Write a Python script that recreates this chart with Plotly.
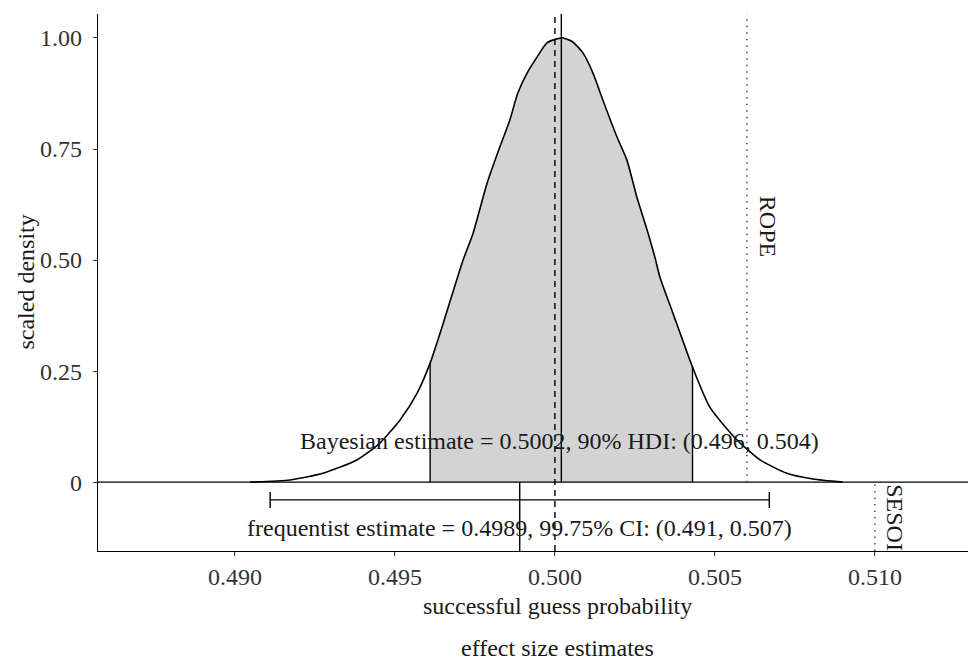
import plotly.graph_objects as go

# posterior density (scaled so the peak is 1)
DENS_X = [0.49047, 0.49172, 0.49275, 0.49381, 0.49453, 0.49516, 0.49569, 0.4961,
          0.49641, 0.49713, 0.49744, 0.49788, 0.49828, 0.49859, 0.49884, 0.49913,
          0.49944, 0.49975, 0.50006, 0.50025, 0.50056, 0.50088, 0.50119, 0.5015,
          0.50194, 0.50225, 0.50256, 0.50288, 0.50313, 0.50328, 0.50369, 0.5043,
          0.50484, 0.50569, 0.50641, 0.50725, 0.50806, 0.509]
DENS_Y = [0.0, 0.005, 0.02, 0.05, 0.088, 0.14, 0.20, 0.268,
          0.335, 0.50, 0.56, 0.673, 0.755, 0.815, 0.876, 0.921,
          0.957, 0.989, 0.998, 1.0, 0.991, 0.966, 0.921, 0.86,
          0.777, 0.725, 0.642, 0.568, 0.505, 0.462, 0.38, 0.259,
          0.169, 0.095, 0.05, 0.02, 0.007, 0.0]

BAYES_EST = 0.5002
HDI_LOW, HDI_HIGH = 0.4961, 0.5043
FREQ_EST = 0.4989
CI_LOW, CI_HIGH = 0.4911, 0.5067
NULL_VALUE = 0.500
ROPE = 0.506
SESOI = 0.510

BAYES_LABEL = "Bayesian estimate = 0.5002, 90% HDI: (0.496, 0.504)"
FREQ_LABEL = "frequentist estimate = 0.4989, 99.75% CI: (0.491, 0.507)"

X_TICKS = [0.490, 0.495, 0.500, 0.505, 0.510]
X_TICK_TEXT = ["0.490", "0.495", "0.500", "0.505", "0.510"]
Y_TICKS = [0, 0.25, 0.5, 0.75, 1.0]
Y_TICK_TEXT = ["0", "0.25", "0.50", "0.75", "1.00"]

X_RANGE = [0.48572, 0.51316]
Y_RANGE = [-0.155, 1.054]
ERR_Y = -0.04

FONT = "Liberation Serif, Times New Roman, serif"
INK = "black"

fig = go.Figure()

# shaded HDI region under the curve
hdi_x = [x for x in DENS_X if HDI_LOW <= x <= HDI_HIGH]
hdi_y = [y for x, y in zip(DENS_X, DENS_Y) if HDI_LOW <= x <= HDI_HIGH]
fig.add_trace(go.Scatter(x=hdi_x, y=hdi_y, mode="lines", fill="tozeroy",
                         fillcolor="#D3D3D3", line=dict(width=0, shape="spline", smoothing=0.6),
                         hoverinfo="skip"))

# HDI edges
for edge in (HDI_LOW, HDI_HIGH):
    top = DENS_Y[DENS_X.index(edge)]
    fig.add_trace(go.Scatter(x=[edge, edge], y=[0, top], mode="lines",
                             line=dict(color=INK, width=1.4), hoverinfo="skip"))

# density curve
fig.add_trace(go.Scatter(x=DENS_X, y=DENS_Y, mode="lines",
                         line=dict(color=INK, width=1.6, shape="spline", smoothing=0.6),
                         hoverinfo="skip"))

# frequentist interval
fig.add_trace(go.Scatter(
    x=[FREQ_EST], y=[ERR_Y], mode="markers",
    marker=dict(size=1, opacity=0),
    error_x=dict(type="data", symmetric=False, array=[CI_HIGH - FREQ_EST],
                 arrayminus=[FREQ_EST - CI_LOW], width=8, thickness=1.4, color=INK),
    hoverinfo="skip",
))

shapes = [
    # zero line across the whole panel
    dict(type="line", xref="paper", x0=0, x1=1, yref="y", y0=0, y1=0,
         line=dict(color=INK, width=1.4)),
    # null value, dashed, full height
    dict(type="line", xref="x", x0=NULL_VALUE, x1=NULL_VALUE, yref="y",
         y0=Y_RANGE[0], y1=Y_RANGE[1], line=dict(color=INK, width=1.4, dash="6px,5px")),
    # Bayesian point estimate
    dict(type="line", xref="x", x0=BAYES_EST, x1=BAYES_EST, yref="y",
         y0=0, y1=Y_RANGE[1], line=dict(color=INK, width=1.4)),
    # frequentist point estimate
    dict(type="line", xref="x", x0=FREQ_EST, x1=FREQ_EST, yref="y",
         y0=Y_RANGE[0], y1=0, line=dict(color=INK, width=1.4)),
    # ROPE
    dict(type="line", xref="x", x0=ROPE, x1=ROPE, yref="y",
         y0=0, y1=Y_RANGE[1], line=dict(color="#333333", width=1.3, dash="1.5px,5px")),
    # SESOI
    dict(type="line", xref="x", x0=SESOI, x1=SESOI, yref="y",
         y0=Y_RANGE[0], y1=0, line=dict(color="#333333", width=1.3, dash="1.5px,5px")),
]

txt = dict(family=FONT, size=24, color="#1a1a1a")
mid = dict(showarrow=False, font=txt, xanchor="center", yanchor="middle")
annotations = [
    dict(x=0.50013, y=0.092, xref="x", yref="y", text=BAYES_LABEL, **mid),
    dict(x=FREQ_EST, y=-0.104, xref="x", yref="y", text=FREQ_LABEL, **mid),
    dict(x=0.50666, y=0.577, xref="x", yref="y", text="ROPE", textangle=90, **mid),
    dict(x=0.51063, y=-0.079, xref="x", yref="y", text="SESOI", textangle=90, **mid),
    # axis titles
    dict(x=0.5228, y=-0.1024, xref="paper", yref="paper",
         text="successful guess probability", **mid),
    dict(x=0.5228, y=-0.1806, xref="paper", yref="paper",
         text="effect size estimates", **mid),
    dict(x=-0.0831, y=0.5, xref="paper", yref="paper",
         text="scaled density", textangle=-90, **mid),
]

axis_common = dict(
    showgrid=False, zeroline=False, showline=True, linecolor=INK, linewidth=1.4,
    ticks="outside", ticklen=4, tickwidth=1.2, tickcolor="#333333",
    tickfont=dict(family=FONT, size=24, color="#333333"),
)

# page body adds an 8px offset, so margins are shifted to land on the reference
fig.update_layout(
    width=976, height=662,
    margin=dict(l=90, r=8, t=6, b=119),
    paper_bgcolor="white", plot_bgcolor="white",
    showlegend=False,
    shapes=shapes,
    annotations=annotations,
    xaxis=dict(range=X_RANGE, tickvals=X_TICKS, ticktext=X_TICK_TEXT,
               ticklabelstandoff=0, **axis_common),
    yaxis=dict(range=Y_RANGE, tickvals=Y_TICKS, ticktext=Y_TICK_TEXT,
               ticklabelstandoff=6, **axis_common),
)

fig.write_html("out.html")
